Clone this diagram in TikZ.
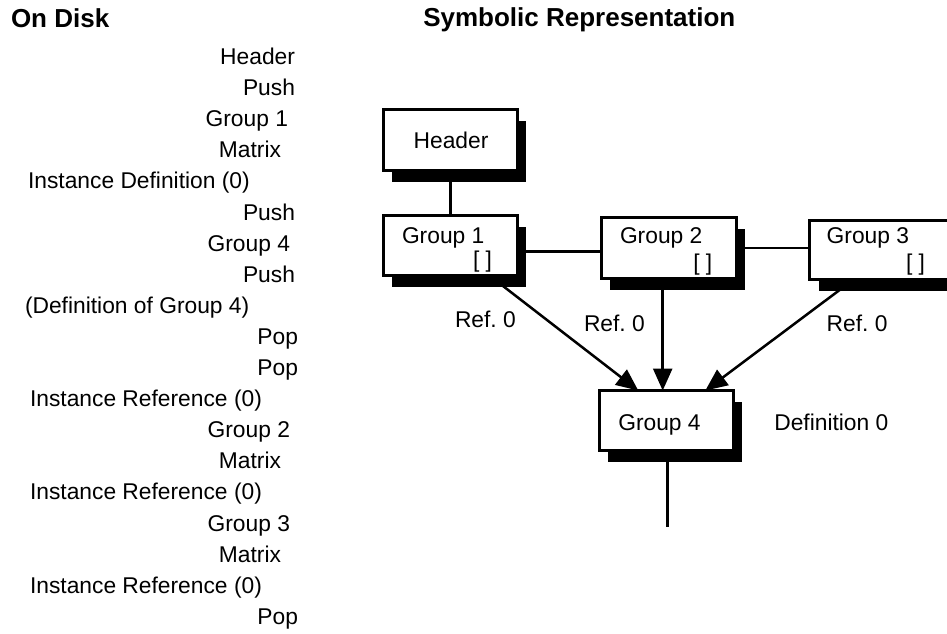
\documentclass[tikz,border=0pt]{standalone}
\usepackage{fontspec}
\setmainfont{Liberation Sans}
\usetikzlibrary{shadows,backgrounds,arrows.meta}
\frenchspacing
\begin{document}
\begin{tikzpicture}[x=1pt,y=-1pt,
  every node/.style={inner sep=0pt, outer sep=0pt},
  txt/.style={font=\fontsize{22.8}{27}\selectfont},
  ttl/.style={font=\fontsize{26}{31}\selectfont\bfseries},
  box/.style={draw, line width=3pt, fill=white, inner sep=0pt,
    drop shadow={shadow xshift=9pt, shadow yshift=-11.5pt, opacity=1, fill=black}},
  conn/.style={line width=2.5pt},
  arr/.style={line width=2.5pt, -{Triangle[length=22pt,width=19pt]}}
]
\clip (0,0) rectangle (947,633);

% titles
\node[ttl, anchor=base west] (t1) at (11,27.5) {On Disk};
\node[ttl, anchor=base west] (t2) at (423.3,26.5) {Symbolic Representation};

% left column (baseline = 64.5 + 31.1 i)
\node[txt, anchor=base east] (l1) at (295,64.5) {Header};
\node[txt, anchor=base east] (l2) at (295,95.6) {Push};
\node[txt, anchor=base east] (l3) at (288,126.7) {Group 1};
\node[txt, anchor=base east] (l4) at (281,157.8) {Matrix};
\node[txt, anchor=base west] (l5) at (28,188.9) {Instance Definition (0)};
\node[txt, anchor=base east] (l6) at (295,220.0) {Push};
\node[txt, anchor=base east] (l7) at (290,251.1) {Group 4};
\node[txt, anchor=base east] (l8) at (295,282.2) {Push};
\node[txt, anchor=base west] (l9) at (25,313.3) {(Definition of Group 4)};
\node[txt, anchor=base east] (l10) at (298,344.4) {Pop};
\node[txt, anchor=base east] (l11) at (298,375.5) {Pop};
\node[txt, anchor=base west] (l12) at (30,406.6) {Instance Reference (0)};
\node[txt, anchor=base east] (l13) at (290,437.7) {Group 2};
\node[txt, anchor=base east] (l14) at (281,468.8) {Matrix};
\node[txt, anchor=base west] (l15) at (30,499.9) {Instance Reference (0)};
\node[txt, anchor=base east] (l16) at (290,531.0) {Group 3};
\node[txt, anchor=base east] (l17) at (281,562.1) {Matrix};
\node[txt, anchor=base west] (l18) at (30,593.2) {Instance Reference (0)};
\node[txt, anchor=base east] (l19) at (298,624.3) {Pop};

% boxes
\node[box, minimum width=134pt, minimum height=61pt] (hdr) at (450.3,139.7) {};
\node[box, minimum width=134pt, minimum height=59.7pt] (g1) at (450.3,245.3) {};
\node[box, minimum width=134.7pt, minimum height=61.3pt] (g2) at (668.8,247.8) {};
\node[box, minimum width=167pt, minimum height=59pt] (g3) at (893,250) {};
\node[box, minimum width=134.3pt, minimum height=60.3pt] (g4) at (666.3,420.7) {};

% box texts
\node[txt, anchor=base] (hdrt) at (451,148.3) {Header};
\node[txt, anchor=base west] (g1t) at (402,243.3) {Group 1};
\node[txt, anchor=base west] (g1b) at (473,267) {[ ]};
\node[txt, anchor=base west] (g2t) at (620,243.3) {Group 2};
\node[txt, anchor=base west] (g2b) at (693.3,270.4) {[ ]};
\node[txt, anchor=base west] (g3t) at (826.7,243.3) {Group 3};
\node[txt, anchor=base west] (g3b) at (906,270) {[ ]};
\node[txt, anchor=base west] (g4t) at (618.3,430.7) {Group 4};
\node[txt, anchor=base west] (def) at (774.3,430.7) {Definition 0};

% reference labels
\node[txt, anchor=base west] (r1) at (455,327.7) {Ref. 0};
\node[txt, anchor=base west] (r2) at (584,331) {Ref. 0};
\node[txt, anchor=base west] (r3) at (826.7,331) {Ref. 0};

\coordinate (tail) at (667.7,526.7);

\begin{scope}[on background layer]
  \draw[conn] (hdr.south) -- (g1.north);
  \draw[conn] ([yshift=-6.4pt]g1.east) -- ([yshift=-6.4pt]g1.east -| g2.west);
  \draw[conn] (g2.east) -- (g2.east -| g3.west);
  \draw[arr] (g1.center) -- ([xshift=-28pt]g4.north);
  \draw[arr] ([xshift=-3.6pt]g4.north |- g2.center) -- ([xshift=-3.6pt]g4.north);
  \draw[arr] (g3.center) -- ([xshift=39pt]g4.north);
  \draw[conn] (g4.center -| tail) -- (tail);
\end{scope}
\end{tikzpicture}
\end{document}
